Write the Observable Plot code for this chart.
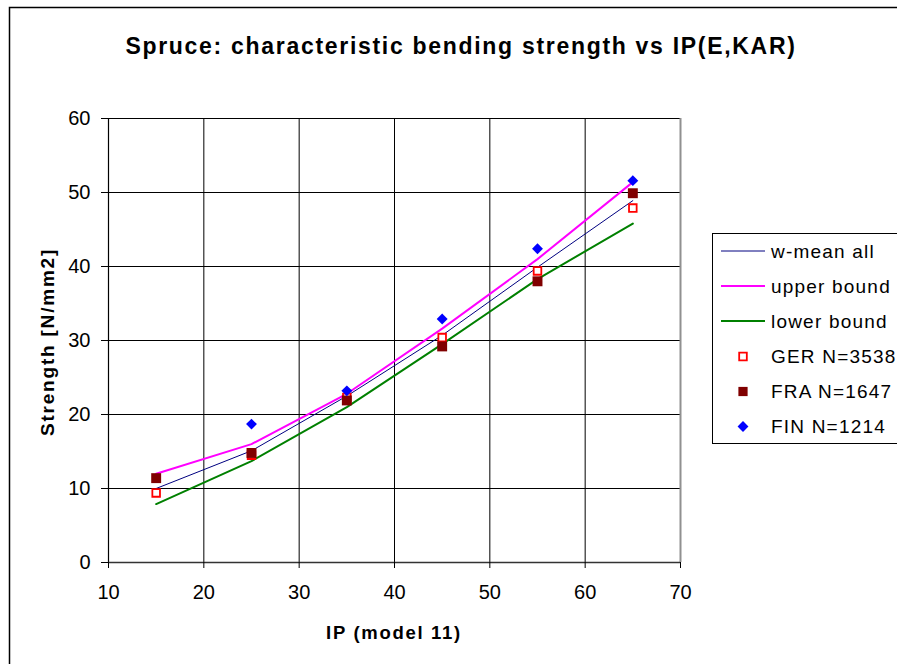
<!DOCTYPE html>
<html><head>
<meta charset="utf-8">
<script src="https://cdn.jsdelivr.net/npm/d3@7"></script>
<script src="https://cdn.jsdelivr.net/npm/@observablehq/plot@0.6"></script>
<style>
html,body{margin:0;padding:0;background:#fff;}
#chart svg{display:block;font-family:"Liberation Sans",Arial,sans-serif;}
</style>
</head><body><div id="chart"></div>
<script>
const ip = [15, 25, 35, 45, 55, 65];
const wMean = [10.0, 15.1, 22.5, 30.7, 39.9, 48.9];
const upper = [12.0, 16.0, 22.8, 31.6, 41.0, 51.4];
const lower = [7.9, 13.7, 21.0, 29.5, 38.3, 45.8];
const ger = [9.4, 14.5, 22.3, 30.4, 39.4, 47.9];
const fra = [11.4, 14.8, 21.9, 29.2, 38.0, 49.9];
const fin = [null, 18.7, 23.2, 32.9, 42.4, 51.6];
const xTicks = [10, 20, 30, 40, 50, 60, 70];
const yTicks = [0, 10, 20, 30, 40, 50, 60];
const seriesNames = ["w-mean all", "upper bound", "lower bound", "GER N=3538", "FRA N=1647", "FIN N=1214"];
const titleText = "Spruce: characteristic bending strength vs IP(E,KAR)";
const xLabel = "IP (model 11)";
const yLabel = "Strength [N/mm2]";

const rows = ip.map((x, i) => ({x, wMean: wMean[i], upper: upper[i], lower: lower[i], ger: ger[i], fra: fra[i], fin: fin[i]}));

const colors = {wMean: "#000080", upper: "#ff00ff", lower: "#008000", ger: "#ff0000", fra: "#800000", fin: "#0000ff"};

const svg = Plot.plot({
  width: 897,
  height: 664,
  marginLeft: 108,
  marginRight: 217,
  marginTop: 118,
  marginBottom: 102,
  style: {fontFamily: "'Liberation Sans', Arial, sans-serif", background: "#fff", color: "#000"},
  x: {domain: [10, 70], ticks: xTicks},
  y: {domain: [0, 60], ticks: yTicks},
  marks: [
    Plot.gridX(xTicks.slice(1, -1), {stroke: "#000", strokeOpacity: 1, strokeWidth: 1}),
    Plot.gridY(yTicks.slice(1), {stroke: "#000", strokeOpacity: 1, strokeWidth: 1}),
    Plot.ruleX([70], {stroke: "#909090", strokeWidth: 2}),
    Plot.ruleX([10], {stroke: "#000", strokeWidth: 1.2}),
    Plot.ruleY([0], {stroke: "#333", strokeWidth: 1.6}),
    Plot.axisX(xTicks, {tickSize: 6, tickPadding: 16, fontSize: 20, label: null, stroke: "#000"}),
    Plot.axisY(yTicks, {tickSize: 7, tickPadding: 11, fontSize: 20, label: null, stroke: "#000"}),
    Plot.line(rows, {x: "x", y: "wMean", stroke: colors.wMean, strokeWidth: 1}),
    Plot.line(rows, {x: "x", y: "upper", stroke: colors.upper, strokeWidth: 2}),
    Plot.line(rows, {x: "x", y: "lower", stroke: colors.lower, strokeWidth: 2}),
    Plot.dot(rows, {x: "x", y: "ger", symbol: "square", r: 4.3, fill: "#fff", stroke: colors.ger, strokeWidth: 1.8}),
    Plot.dot(rows, {x: "x", y: "fra", symbol: "square", r: 5.6, fill: colors.fra, stroke: "none"}),
    Plot.dot(rows.filter(d => d.fin != null), {x: "x", y: "fin", symbol: "diamond2", r: 4.9, fill: colors.fin, stroke: "none"})
  ]
});

const s = d3.select(svg);
const font = "'Liberation Sans', Arial, sans-serif";

// outer border
s.append("rect").attr("x", 9.5).attr("y", 7.5).attr("width", 1000).attr("height", 1000)
  .attr("fill", "none").attr("stroke", "#000").attr("stroke-width", 1.5);

// title
s.append("text").attr("x", 461).attr("y", 54).attr("text-anchor", "middle")
  .attr("font-family", font).attr("font-size", 23).attr("font-weight", "bold")
  .attr("letter-spacing", "1.7px").attr("fill", "#000").text(titleText);

// axis labels
s.append("text").attr("x", 394).attr("y", 639).attr("text-anchor", "middle")
  .attr("font-family", font).attr("font-size", 18.5).attr("font-weight", "bold")
  .attr("letter-spacing", "1.7px").attr("fill", "#000").text(xLabel);
s.append("text").attr("transform", "translate(54,342) rotate(-90)").attr("text-anchor", "middle")
  .attr("font-family", font).attr("font-size", 19).attr("font-weight", "bold")
  .attr("letter-spacing", "1.8px").attr("fill", "#000").text(yLabel);

// legend
const lg = s.append("g").attr("text-anchor", "start");
lg.append("rect").attr("x", 712.5).attr("y", 233.5).attr("width", 300).attr("height", 210)
  .attr("fill", "#fff").attr("stroke", "#000").attr("stroke-width", 1);
const ly = [251, 286, 321, 356.5, 391.5, 426.5];
const lineSpecs = [[colors.wMean, 1], [colors.upper, 2], [colors.lower, 2]];
lineSpecs.forEach(([c, w], i) => {
  lg.append("line").attr("x1", 721).attr("x2", 765).attr("y1", ly[i]).attr("y2", ly[i])
    .attr("stroke", c).attr("stroke-width", w);
});
const sq = d3.symbol(d3.symbolSquare, Math.PI * 4.3 * 4.3)();
const sqF = d3.symbol(d3.symbolSquare, Math.PI * 5.2 * 5.2)();
const dm = d3.symbol(d3.symbolDiamond2, Math.PI * 4.9 * 4.9)();
lg.append("path").attr("d", sq).attr("transform", `translate(743,${ly[3]})`)
  .attr("fill", "#fff").attr("stroke", colors.ger).attr("stroke-width", 1.8);
lg.append("path").attr("d", sqF).attr("transform", `translate(743,${ly[4]})`).attr("fill", colors.fra);
lg.append("path").attr("d", dm).attr("transform", `translate(743,${ly[5]})`).attr("fill", colors.fin);
seriesNames.forEach((t, i) => {
  lg.append("text").attr("x", 771).attr("y", ly[i]).attr("dy", "0.36em").attr("text-anchor", "start")
    .attr("font-family", font).attr("font-size", 19).attr("letter-spacing", "1.2px")
    .attr("fill", "#000").text(t);
});

document.getElementById("chart").appendChild(svg);
</script>
</body></html>
